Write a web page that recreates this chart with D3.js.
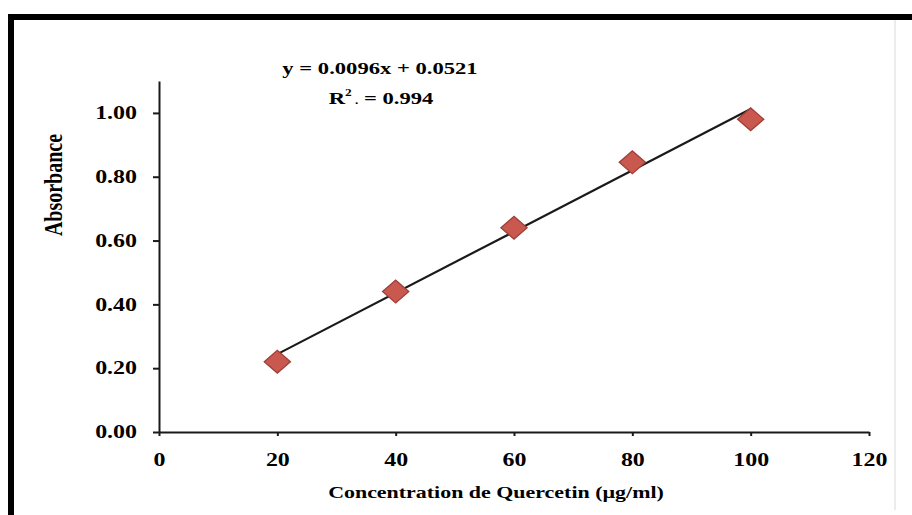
<!DOCTYPE html>
<html>
<head>
<meta charset="utf-8">
<script src="https://cdn.jsdelivr.net/npm/d3@7"></script>
<style>
  body { margin: 0; background: #fff; }
  svg text { font-family: "Liberation Serif", "Times New Roman", serif; font-weight: bold; fill: #000; }
</style>
</head>
<body>
<div id="chart"></div>
<script>
// data
const concentration = [20, 40, 60, 80, 100];
const absorbance = [0.22, 0.44, 0.64, 0.845, 0.98];
const slope = 0.0096, intercept = 0.0521, r2 = 0.994;
const xTicks = [0, 20, 40, 60, 80, 100, 120];
const yTicks = [0, 0.2, 0.4, 0.6, 0.8, 1.0];

const W = 912, H = 515;
const sx = 1.33; // the original text is stretched sideways

const svg = d3.select("#chart").append("svg")
    .attr("width", W)
    .attr("height", H);

// frame of the original picture
svg.append("rect")
    .attr("x", 11).attr("y", 17)
    .attr("width", W + 20).attr("height", H + 20)
    .attr("fill", "none")
    .attr("stroke", "#000")
    .attr("stroke-width", 6);
svg.append("line")
    .attr("x1", 895).attr("x2", 895)
    .attr("y1", 20).attr("y2", 510)
    .attr("stroke", "#ececec")
    .attr("stroke-width", 2);

const x = d3.scaleLinear().domain([0, 120]).range([159, 869]);
const y = d3.scaleLinear().domain([0, 1.1]).range([432, 81]);

// y axis
const gy = svg.append("g")
    .attr("transform", `translate(${x(0)},0)`)
    .call(d3.axisLeft(y).tickValues(yTicks).tickSize(6).tickSizeOuter(0)
        .tickFormat(d3.format(".2f")));
gy.selectAll("text")
    .attr("x", -22 / sx)
    .attr("transform", `scale(${sx},1)`)
    .style("font-size", "18px");

// x axis
const gx = svg.append("g")
    .attr("transform", `translate(0,${y(0)})`)
    .call(d3.axisBottom(x).tickValues(xTicks).tickSize(4).tickSizeOuter(0));
gx.selectAll("text")
    .attr("y", 21)
    .attr("transform", `scale(${sx},1)`)
    .style("font-size", "18px");

svg.selectAll(".domain, .tick line")
    .attr("stroke", "#1a1a1a")
    .attr("stroke-width", 2);

// axis titles
svg.append("text")
    .attr("transform", `translate(496,498) scale(${sx},1)`)
    .attr("text-anchor", "middle")
    .style("font-size", "16.5px")
    .text("Concentration de Quercetin (µg/ml)");

svg.append("text")
    .attr("transform", `translate(62,185) scale(1.25,1) rotate(-90)`)
    .attr("text-anchor", "middle")
    .style("font-size", "20px")
    .text("Absorbance");

// trend line from the fitted equation
const x0 = d3.min(concentration), x1 = d3.max(concentration);
svg.append("line")
    .attr("x1", x(x0)).attr("y1", y(slope * x0 + intercept))
    .attr("x2", x(x1)).attr("y2", y(slope * x1 + intercept))
    .attr("stroke", "#1a1a1a")
    .attr("stroke-width", 2.2);

// diamond markers
const diamond = d3.symbol().type(d3.symbolSquare).size(260);
svg.selectAll("path.pt")
    .data(concentration)
    .enter().append("path")
    .attr("class", "pt")
    .attr("d", diamond)
    .attr("transform", (d, i) => `translate(${x(d)},${y(absorbance[i])}) scale(1.15,1) rotate(45)`)
    .attr("fill", "#c9584f")
    .attr("stroke", "#9e3f39")
    .attr("stroke-width", 1.2);

// equation and R squared
svg.append("text")
    .attr("transform", `translate(380,74) scale(${sx},1)`)
    .attr("text-anchor", "middle")
    .style("font-size", "17px")
    .text(`y = ${slope}x + ${intercept}`);

const rt = svg.append("text")
    .attr("transform", `translate(381,104) scale(${sx},1)`)
    .attr("text-anchor", "middle")
    .style("font-size", "17px");
rt.append("tspan").text("R");
rt.append("tspan").attr("dy", -8).style("font-size", "10px").text("2");
rt.append("tspan").attr("dy", 8).style("font-size", "10px").text(" .");
rt.append("tspan").text(` = ${r2}`);
</script>
</body>
</html>
